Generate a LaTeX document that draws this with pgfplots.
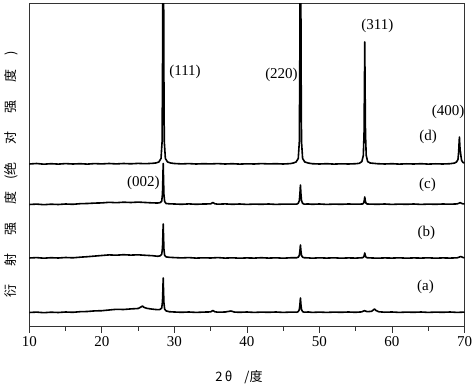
\documentclass[border=0pt]{standalone}
\usepackage{fontspec}
\setmainfont{Liberation Serif}
\newfontfamily\cjk{Noto Sans CJK SC}
\usepackage{pgfplots}
\pgfplotsset{compat=1.18}
\begin{document}
\begin{tikzpicture}
\useasboundingbox (0,0) rectangle (474pt,386pt);
\begin{axis}[
  at={(29.3pt,59.5pt)}, anchor=south west,
  scale only axis, width=435.2pt, height=323.2pt,
  xmin=10, xmax=70, ymin=0, ymax=323.2,
  xtick={10,20,...,70}, minor x tick num=1,
  ytick=\empty,
  xtick pos=bottom, tick align=outside,
  major tick length=6pt, minor tick length=4pt,
  axis line style={black!80, line width=0.8pt},
  every tick/.style={black!80, line width=0.8pt},
  tick label style={font=\fontsize{15}{18}\selectfont},
  /pgf/number format/assume math mode=true,
]
% (a)
\addplot[black, line width=1.6pt, line join=round] coordinates {(10,14)(11,14.4)(12,13.8)(13,14.3)(14,14)(15,14.5)(16,14.2)(17,14.8)(18,15)(19,15.6)(20,15.8)(21,16.5)(22,17.2)(23,17)(24,17.6)(25,18)(25.4,19.5)(25.6,20.5)(25.8,19.2)(26.2,18.2)(26.8,17.5)(27.4,17)(27.9,16.8)(28.06,17.2)(28.26,18.6)(28.36,24.7)(28.41,35.5)(28.46,48.5)(28.51,34.8)(28.56,23.8)(28.66,17.4)(28.86,15.6)(29.3,14.8)(30,14.5)(31,14.2)(32,14.5)(33,14.1)(34,14.4)(35,14.6)(35.3,16)(35.6,14.7)(36,14.3)(37,14.5)(37.8,15.5)(38.3,14.4)(39,14.2)(40,14.5)(41,14.1)(42,14.4)(43,14.2)(44,14.5)(45,14.1)(46,14.4)(46.88,14.3)(47.08,14.9)(47.23,16.9)(47.31,22)(47.38,28.5)(47.45,22)(47.53,16.9)(47.68,14.9)(47.88,14.3)(48.5,14.5)(49,14.1)(50,14.4)(51,14.1)(52,14.4)(53,14.2)(54,14.5)(55,14.2)(55.8,14.6)(56.2,15.8)(56.6,14.8)(57.2,15.2)(57.5,17)(57.6,17.5)(57.8,16)(58.2,14.7)(59,14.3)(60,14.5)(61,14.1)(62,14.4)(63,14.2)(64,14.5)(65,14.1)(66,14.4)(67,14.2)(68,14.5)(69,14.1)(70,14.4)};
% (b)
\addplot[black, line width=1.6pt, line join=round] coordinates {(10,68.5)(11,68.9)(12,68.3)(13,68.8)(14,68.5)(15,69)(16,68.7)(17,69.3)(18,69.8)(19,70.4)(20,71)(21,71.6)(22,71.3)(23,71.8)(24,71.4)(25,71.7)(26,71.2)(27,70.8)(27.7,70.2)(28.06,70.7)(28.26,72.4)(28.36,78.5)(28.41,90)(28.46,102.5)(28.51,89.5)(28.56,77.5)(28.66,71)(28.86,69.6)(29.3,69.2)(30,68.9)(31,68.6)(32,68.9)(33,68.4)(34,68.7)(35,68.5)(36,68.9)(37,68.4)(38,68.7)(39,68.3)(40,68.6)(41,68.4)(42,68.8)(43,68.4)(44,68.7)(45,68.3)(46,68.7)(46.88,68.8)(47.08,69.3)(47.23,71.1)(47.31,75.7)(47.38,81.5)(47.45,75.7)(47.53,71.1)(47.68,69.3)(47.88,68.8)(48.5,68.6)(49,68.3)(50,68.7)(51,68.4)(52,68.7)(53,68.3)(54,68.6)(55,68.4)(55.75,68.7)(55.95,68.8)(56.1,69.5)(56.18,71.25)(56.25,73.5)(56.32,71.25)(56.4,69.5)(56.55,68.8)(57,68.6)(58,68.3)(59,68.6)(60,68.4)(61,68.7)(62,68.3)(63,68.6)(64,68.4)(65,68.7)(66,68.3)(67,68.6)(68,68.4)(69,68.7)(69.5,70)(69.8,69)(70,68.7)};
% (c)
\addplot[black, line width=1.6pt, line join=round] coordinates {(10,122)(11,122.4)(12,121.8)(13,122.3)(14,122)(15,122.5)(16,122.2)(17,122.8)(18,123)(19,123.4)(20,123.6)(21,124.2)(22,123.8)(23,124.3)(24,124)(25,124.4)(26,124)(27,123.6)(27.7,123.5)(28.06,123.9)(28.26,125.4)(28.36,132.5)(28.41,147)(28.46,163)(28.51,146.5)(28.56,132)(28.66,124.9)(28.86,123)(29.3,122.7)(30,122.5)(31,122.2)(32,122.6)(33,122.2)(34,122.5)(35,122.6)(35.3,124)(35.6,122.7)(36,122.3)(37,122.6)(38,122.2)(39,122.5)(40,122.1)(41,122.4)(42,122.2)(43,122.5)(44,122.1)(45,122.4)(46,122.3)(46.88,122.4)(47.08,123.2)(47.23,125.9)(47.31,132.7)(47.38,141.5)(47.45,132.7)(47.53,125.9)(47.68,123.2)(47.88,122.4)(48.5,122.5)(49,122.2)(50,122.5)(51,122.1)(52,122.4)(53,122.2)(54,122.5)(55,122.3)(55.95,122.5)(56.1,123.5)(56.18,126.1)(56.25,129.5)(56.32,126.1)(56.4,123.5)(56.55,122.5)(57,122.4)(58,122.2)(59,122.5)(60,122.1)(61,122.4)(62,122.2)(63,122.5)(64,122.1)(65,122.4)(66,122.2)(67,122.5)(68,122.3)(69,122.6)(69.4,123.8)(69.7,122.8)(70,122.5)};
% (d)
\addplot[black, line width=1.6pt, line join=round] coordinates {(10,162.5)(11,163)(12,162.3)(13,162.8)(14,162.4)(15,162.9)(16,162.5)(17,162.8)(18,162.4)(19,162.9)(20,162.6)(21,163)(22,162.6)(23,163)(24,162.7)(25,163.1)(26,162.8)(27,163.2)(27.5,163.6)(27.86,164.5)(28.16,168)(28.31,185)(28.38,275)(28.42,432)(28.46,612)(28.50,432)(28.54,275)(28.61,185)(28.76,168)(29.06,164.5)(29.5,163.5)(30,163)(31,162.6)(32,162.9)(33,162.5)(34,162.8)(35,162.6)(36,162.9)(37,162.5)(38,162.8)(39,162.4)(40,162.7)(41,162.5)(42,162.9)(43,162.6)(44,162.8)(45,162.5)(46,162.9)(46.4,163.5)(46.78,164.5)(47.08,168)(47.23,185)(47.30,275)(47.34,432)(47.38,612)(47.42,432)(47.46,275)(47.53,185)(47.68,168)(47.98,164.5)(48.5,163.4)(49,162.8)(50,162.5)(51,162.8)(52,162.4)(53,162.7)(54,162.5)(55,162.8)(55.5,163.2)(55.85,164.9)(56.05,171)(56.15,193)(56.2,235.5)(56.25,284.5)(56.3,235.5)(56.35,193)(56.45,171)(56.65,164.9)(57,163.5)(58,162.8)(59,162.5)(60,162.8)(61,162.4)(62,162.7)(63,162.5)(64,162.8)(65,162.4)(66,162.7)(67,162.5)(68,162.8)(68.6,163.4)(68.9,164.5)(69.1,167)(69.2,175)(69.25,183)(69.3,189.5)(69.35,182)(69.4,176)(69.45,174.5)(69.5,171)(69.6,166)(69.8,164)(70,163.5)};
\begin{scope}[every node/.style={font=\fontsize{15}{18}\selectfont, inner sep=0pt}]
\node at (axis cs:31.47,254.5) {(111)};
\node at (axis cs:44.77,251.5) {(220)};
\node at (axis cs:58.0,300.5) {(311)};
\node at (axis cs:67.73,214.5) {(400)};
\node at (axis cs:25.74,143.5) {(002)};
\node at (axis cs:64.97,189.5) {(d)};
\node at (axis cs:64.90,141.5) {(c)};
\node at (axis cs:64.76,93.5) {(b)};
\node at (axis cs:64.62,39.5) {(a)};
\end{scope}
\end{axis}
\node[rotate=90, inner sep=0pt, font=\cjk\fontsize{13}{15}\selectfont] at (11pt,212pt)
  {衍\hspace{18pt}射\hspace{18pt}强\hspace{18pt}度\hspace{12pt}(绝\hspace{18pt}对\hspace{18pt}强\hspace{18pt}度\hspace{14pt})};
\node[inner sep=0pt, font=\cjk\fontsize{13}{15}\selectfont] at (239pt,9pt) {2\,θ\hspace{12pt}/度};
\end{tikzpicture}
\end{document}
